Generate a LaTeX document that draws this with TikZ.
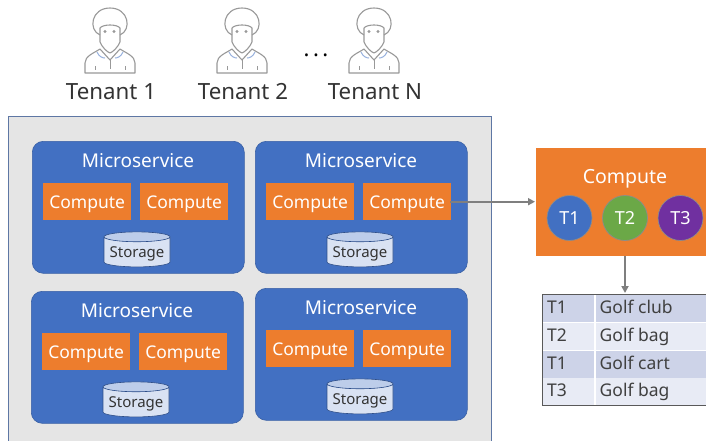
\documentclass[tikz,border=0pt]{standalone}
\usepackage{fontspec}
\usepackage{xcolor}
\setmainfont{Noto Sans}
\usetikzlibrary{shapes.geometric,arrows.meta}
\definecolor{msblue}{HTML}{4270C2}
\definecolor{msorange}{HTML}{ED7D2D}
\definecolor{tgreen}{HTML}{6BA847}
\definecolor{tpurple}{HTML}{7030A0}
\definecolor{linegray}{HTML}{7F7F7F}
\definecolor{rowdark}{HTML}{CDD3E8}
\definecolor{rowlight}{HTML}{E8EBF5}
\tikzstyle{outer}=[draw=msblue!55!gray,fill=black!10,line width=1pt]
\tikzstyle{service}=[draw=msblue!85!black,fill=msblue,rounded corners=11pt,line width=.6pt,anchor=north west,minimum width=212pt,minimum height=132pt,inner sep=0pt]
\tikzstyle{title}=[text=white,font=\fontsize{19}{19}\selectfont]
\tikzstyle{cpu}=[fill=msorange,text=white,font=\fontsize{17.5}{18}\selectfont,anchor=north west,minimum width=88pt,minimum height=37pt,inner sep=0pt,text height=14pt,text depth=0pt]
\tikzstyle{storage}=[cylinder,shape border rotate=90,aspect=.18,draw=msblue!70!black,line width=.6pt,cylinder uses custom fill,cylinder body fill=msblue!20,cylinder end fill=msblue!35,minimum width=66pt,minimum height=35pt,inner sep=0pt,text=black!80,font=\fontsize{15}{15}\selectfont,text height=12pt,text depth=1pt]
\tikzstyle{tenant}=[text=black!80,font=\fontsize{22.3}{23}\selectfont,text height=16pt,text depth=0pt]
\tikzstyle{person}=[draw=black!40,line width=1.1pt,line join=round]
\tikzstyle{bigcpu}=[fill=msorange,anchor=north west,minimum width=180pt,minimum height=108pt,inner sep=0pt]
\tikzstyle{tcircle}=[circle,draw=black!45,line width=.7pt,minimum size=45pt,inner sep=0pt,text=white,font=\fontsize{18}{18}\selectfont]
\tikzstyle{cell}=[anchor=north west,minimum height=27.2pt,inner sep=0pt,text=black!75,font=\fontsize{17.5}{18}\selectfont,text height=13pt,text depth=3pt]
\tikzstyle{label}=[cell,anchor=west,minimum height=0pt]
\tikzstyle{flow}=[draw=linegray,line width=1.8pt,-{Triangle[length=7pt,width=7pt]},shorten >=1pt]
% one microservice box: name, x, y
\def\microservice#1#2#3{
  \begin{scope}[shift={(#2,#3)}]
    \node[service] (#1) at (0,0) {};
    \node[title] (#1title) at (106,20) {Microservice};
    \node[cpu] (#1cpua) at (11,42) {Compute};
    \node[cpu] (#1cpub) at (108,42) {Compute};
    \node[storage] (#1store) at (105,111) {Storage};
  \end{scope}
}
% one person icon and its label: name, x, label
\def\tenanticon#1#2#3{
  \begin{scope}[shift={(#2,0)}]
    \draw[person] (-10,35) .. controls (-22,30) and (-19,8) .. (0,8) .. controls (19,8) and (22,30) .. (10,35);
    \draw[person] (-10,28) .. controls (-7,24) and (7,24) .. (10,28) -- (10,42) .. controls (8,47) and (3,52) .. (0,53) .. controls (-3,52) and (-8,47) .. (-10,42) -- cycle;
    \fill[black!40] (-5,31.5) circle (1.6) (4,31.5) circle (1.6);
    \draw[person] (-25,73) -- (-25,63) .. controls (-25,56) and (-16,53) .. (-10,49) -- (0,60) -- (10,49) .. controls (16,53) and (25,56) .. (25,63) -- (25,73) -- cycle;
    \draw[person,line width=.8pt] (0,60) -- (0,69) (-15,66) -- (-15,70) (15,66) -- (15,70);
    \draw[msblue!55,line width=1pt] (-13,52) .. controls (-11,57) and (-7,58) .. (-5,58) (13,52) .. controls (11,57) and (7,58) .. (5,58);
    \node[tenant] (#1) at (1,91) {#3};
  \end{scope}
}
\begin{document}
\begin{tikzpicture}[x=1pt,y=-1pt]
    \clip (0,0) rectangle (706,440);
    \fill[white] (0,0) rectangle (706,440);
    \tenanticon{tenanta}{110}{Tenant 1}
    \tenanticon{tenantb}{242}{Tenant 2}
    \tenanticon{tenantn}{374}{Tenant N}
    \node[text=black,font=\fontsize{22}{22}\bfseries] (dots) at (316,55) {.\kern3.5pt.\kern3.5pt.};
    \draw[outer] (8.5,116.5) rectangle (491.5,450);
    \microservice{msa}{32}{141}
    \microservice{msb}{255}{141}
    \microservice{msc}{31}{291}
    \microservice{msd}{255}{288}
    \node[bigcpu] (bigcompute) at (536,148) {};
    \node[title,font=\fontsize{19.5}{20}\selectfont] (bigtitle) at (625,179) {Compute};
    \node[tcircle,fill=msblue] (tone) at (569.5,218) {T1};
    \node[tcircle,fill=tgreen] (ttwo) at (625,218) {T2};
    \node[tcircle,fill=tpurple] (tthree) at (680.5,218) {T3};
    \node[cell,fill=rowdark,minimum width=51pt] (cella) at (543,295) {};
    \node[label] (texta) at ([xshift=4pt]cella.west) {T1};
    \node[cell,fill=rowdark,minimum width=114pt] (namea) at (595.5,295) {};
    \node[label] (labela) at ([xshift=4pt]namea.west) {Golf club};
    \node[cell,fill=rowlight,minimum width=51pt] (cellb) at (543,322.8) {};
    \node[label] (textb) at ([xshift=4pt]cellb.west) {T2};
    \node[cell,fill=rowlight,minimum width=114pt] (nameb) at (595.5,322.8) {};
    \node[label] (labelb) at ([xshift=4pt]nameb.west) {Golf bag};
    \node[cell,fill=rowdark,minimum width=51pt] (cellc) at (543,350.6) {};
    \node[label] (textc) at ([xshift=4pt]cellc.west) {T1};
    \node[cell,fill=rowdark,minimum width=114pt] (namec) at (595.5,350.6) {};
    \node[label] (labelc) at ([xshift=4pt]namec.west) {Golf cart};
    \node[cell,fill=rowlight,minimum width=51pt] (celld) at (543,378) {};
    \node[label] (textd) at ([xshift=4pt]celld.west) {T3};
    \node[cell,fill=rowlight,minimum width=114pt] (named) at (595.5,378) {};
    \node[label] (labeld) at ([xshift=4pt]named.west) {Golf bag};
    \draw[black!65,line width=1pt] (542,294) rectangle (712,405.5);
    \coordinate (tabletop) at (625,294);
    \draw[flow] ([xshift=-1pt]msbcpub.east) -- (bigcompute.west |- msbcpub.east);
    \draw[flow] (bigcompute.south -| tabletop) -- (tabletop);
  \end{tikzpicture}
\end{document}
